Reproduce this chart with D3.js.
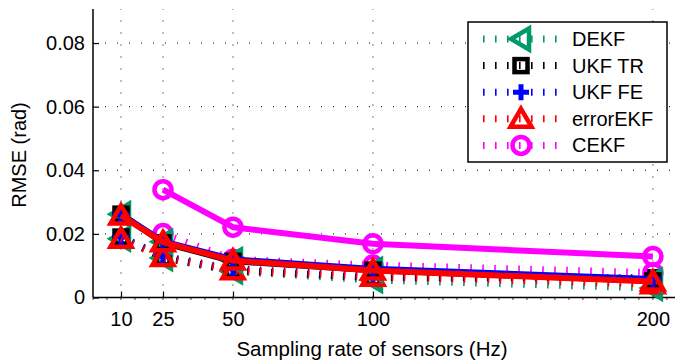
<!DOCTYPE html>
<html><head><meta charset="utf-8">
<script src="https://cdn.jsdelivr.net/npm/d3@7"></script>
<style>body{margin:0;background:#fff}svg{display:block}text{font-family:"Liberation Sans",Arial,Helvetica,sans-serif}</style>
</head><body><svg id="c" width="675" height="360"></svg>
<script>
const rates = [10, 25, 50, 100, 200];
const xTicks = [10, 25, 50, 100, 200];
const yTicks = [0, 0.02, 0.04, 0.06, 0.08];
const yTickLabels = ["0", "0.02", "0.04", "0.06", "0.08"];
const seriesNames = ["DEKF", "UKF TR", "UKF FE", "errorEKF", "CEKF"];
// solid-line set
const dekfA     = [0.0262, 0.0175, 0.0117, 0.0087, 0.0053];
const ukfTrA    = [0.0262, 0.0172, 0.0114, 0.0086, 0.0052];
const ukfFeA    = [0.0261, 0.0176, 0.0120, 0.0090, 0.0058];
const errorEkfA = [0.0258, 0.0174, 0.0116, 0.0085, 0.0050];
const cekfA     = [null, 0.0339, 0.0221, 0.0169, 0.0129];
// dotted-line set
const dekfB     = [0.0185, 0.0124, 0.0082, 0.0055, 0.0030];
const ukfTrB    = [0.0190, 0.0125, 0.0085, 0.0062, 0.0062];
const ukfFeB    = [0.0190, 0.0130, 0.0090, 0.0070, 0.0056];
const errorEkfB = [0.0185, 0.0127, 0.0086, 0.0065, 0.0042];
const cekfB     = [null, 0.0201, 0.0120, 0.0102, 0.0078];

const colors = ["#00996a", "#000000", "#0000ff", "#ff0000", "#ff00ff"];
const markers = ["ltri", "square", "plus", "tri", "circle"];
const setA = [dekfA, ukfTrA, ukfFeA, errorEkfA, cekfA];
const setB = [dekfB, ukfTrB, ukfFeB, errorEkfB, cekfB];
const drawOrder = [0, 1, 2, 4, 3];

const svg = d3.select("#c");
const x = d3.scaleLinear().domain([0, 207.9]).range([93, 675]);
const y = d3.scaleLinear().domain([0, 0.0907]).range([297.5, 9]);

// grid
const g = svg.append("g");
g.selectAll("line.gx").data(xTicks).join("line")
  .attr("x1", d => x(d)).attr("x2", d => x(d)).attr("y1", y(0)).attr("y2", 9)
  .attr("stroke", "#000").attr("stroke-width", 1).attr("stroke-dasharray", "1,11");
g.selectAll("line.gy").data(yTicks.slice(1)).join("line")
  .attr("x1", 93).attr("x2", 675).attr("y1", d => y(d)).attr("y2", d => y(d))
  .attr("stroke", "#000").attr("stroke-width", 1).attr("stroke-dasharray", "1,11");

// axes
const xAxis = d3.axisBottom(x).tickValues(xTicks).tickSize(-6).tickPadding(14).tickFormat(d3.format("d"));
const yAxis = d3.axisLeft(y).tickValues(yTicks).tickSize(-6).tickPadding(8).tickFormat((d, i) => yTickLabels[i]);
const minor = d3.range(0, 208, 5);
svg.append("g").selectAll("line").data(minor).join("line")
  .attr("x1", d => x(d)).attr("x2", d => x(d)).attr("y1", y(0)).attr("y2", y(0) + 2.5)
  .attr("stroke", "#444").attr("stroke-width", 1);
const ax = svg.append("g").attr("transform", `translate(0,${y(0)})`).call(xAxis);
const ay = svg.append("g").attr("transform", `translate(93,0)`).call(yAxis);
[ax, ay].forEach(a => {
  a.select(".domain").attr("stroke", "#000").attr("stroke-width", 1.5);
  a.selectAll(".tick line").attr("stroke", "#000").attr("stroke-width", 1.2);
  a.selectAll("text").attr("font-size", 20).attr("fill", "#000").attr("font-family", '"Liberation Sans",Arial,sans-serif');
});
ax.select(".domain").attr("d", `M93,0H675`);
ay.select(".domain").attr("d", `M0,${y(0)}V9`);

svg.append("text").attr("x", 372).attr("y", 356).attr("text-anchor", "middle")
  .attr("font-size", 20.5).text("Sampling rate of sensors (Hz)");
svg.append("text").attr("transform", "translate(26,155) rotate(-90)").attr("text-anchor", "middle")
  .attr("font-size", 20).text("RMSE (rad)");

function drawMarker(sel, type, color) {
  if (type === "tri") sel.append("path").attr("d", "M0,-10L10.5,8L-10.5,8Z").attr("fill", "none").attr("stroke", color).attr("stroke-width", 4.5).attr("stroke-linejoin", "miter");
  else if (type === "ltri") sel.append("path").attr("d", "M-10,0L8,-10.5L8,10.5Z").attr("fill", "none").attr("stroke", color).attr("stroke-width", 4.5);
  else if (type === "square") sel.append("rect").attr("x", -6.5).attr("y", -6.5).attr("width", 13).attr("height", 13).attr("fill", "none").attr("stroke", color).attr("stroke-width", 4.5);
  else if (type === "plus") sel.append("path").attr("d", "M-8,0H8M0,-8V8").attr("stroke", color).attr("stroke-width", 5);
  else if (type === "circle") sel.append("circle").attr("r", 8.5).attr("fill", "none").attr("stroke", color).attr("stroke-width", 4.5);
}

const line = d3.line().defined(d => d[1] != null).x(d => x(d[0])).y(d => y(d[1]));
const plot = svg.append("g");
// dotted set
drawOrder.forEach(i => {
  const pts = rates.map((r, k) => [r, setB[i][k]]);
  plot.append("path").attr("d", line(pts)).attr("fill", "none").attr("stroke", colors[i])
    .attr("stroke-width", 7).attr("stroke-dasharray", "1.6,10.4");
  pts.filter(p => p[1] != null).forEach(p => {
    drawMarker(plot.append("g").attr("transform", `translate(${x(p[0])},${y(p[1])})`), markers[i], colors[i]);
  });
});
// solid set
drawOrder.forEach(i => {
  const pts = rates.map((r, k) => [r, setA[i][k]]);
  plot.append("path").attr("d", line(pts)).attr("fill", "none").attr("stroke", colors[i])
    .attr("stroke-width", 6).attr("stroke-linejoin", "round");
  pts.filter(p => p[1] != null).forEach(p => {
    drawMarker(plot.append("g").attr("transform", `translate(${x(p[0])},${y(p[1])})`), markers[i], colors[i]);
  });
});

// legend
const lg = svg.append("g");
lg.append("rect").attr("x", 468).attr("y", 22).attr("width", 199).attr("height", 140)
  .attr("fill", "#fff").attr("stroke", "#000").attr("stroke-width", 1.5);
seriesNames.forEach((name, i) => {
  const cy = 39 + i * 26.6;
  lg.append("line").attr("x1", 483).attr("x2", 560).attr("y1", cy).attr("y2", cy)
    .attr("stroke", colors[i]).attr("stroke-width", 7).attr("stroke-dasharray", "1.6,10.4");
  drawMarker(lg.append("g").attr("transform", `translate(521,${cy})`), markers[i], colors[i]);
  lg.append("text").attr("x", 572).attr("y", cy + 7).attr("font-size", 20).text(name);
});
</script></body></html>
